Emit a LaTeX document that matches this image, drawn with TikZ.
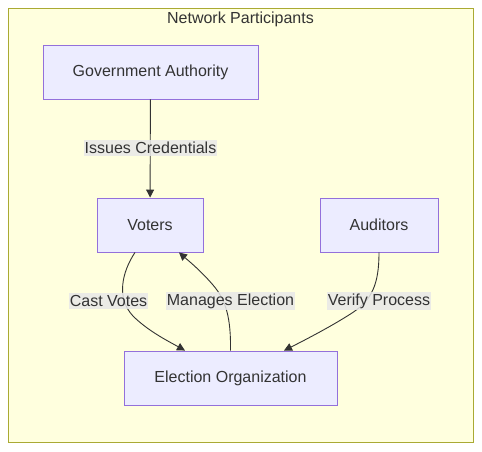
\documentclass[tikz,border=0pt]{standalone}
\usepackage{fontspec}
\setmainfont{Liberation Sans}
\usepackage{tikz}
\usetikzlibrary{arrows.meta,calc}

\definecolor{actorfill}{HTML}{ECECFF}
\definecolor{actorline}{HTML}{9370DB}
\definecolor{groupfill}{HTML}{FFFFDE}
\definecolor{groupline}{HTML}{AAAA33}
\definecolor{inktext}{HTML}{333333}
\definecolor{labelfill}{HTML}{E8E8E8}

\begin{document}
\begin{tikzpicture}[
    x=1pt, y=-1pt,
    every node/.style={font=\fontsize{16}{19}\selectfont, text=inktext},
    partbox/.style={draw=actorline, fill=actorfill, line width=0.9pt,
                    minimum height=54pt, inner sep=0pt},
    groupbox/.style={draw=groupline, fill=groupfill, line width=0.9pt, inner sep=0pt},
    edgelabel/.style={fill=labelfill, fill opacity=0.85, text opacity=1,
                      inner xsep=1pt, inner ysep=2pt},
    flowarrow/.style={-{Triangle[length=8pt,width=8pt]}, draw=inktext, line width=0.9pt},
  ]
  \useasboundingbox (0,0) rectangle (482,451);

  % === Group ===
  \node[groupbox, minimum width=465pt, minimum height=434pt] (group) at (240.5,225) {};
  \node (title) at (240.5,19) {Network Participants};

  % === Participants ===
  \node[partbox, minimum width=215pt] (gov) at (150.5,72) {Government Authority};
  \node[partbox, minimum width=106pt] (voters) at (150,225) {Voters};
  \node[partbox, minimum width=118pt] (auditors) at (379,225) {Auditors};
  \node[partbox, minimum width=213pt] (election) at (230.5,378) {Election Organization};

  % Arrows
  \draw[flowarrow] (gov) -- (voters);
  \draw[flowarrow] ($(voters.south)+(-15,0)$) .. controls (122,272) and (116,298) .. (133,316)
    .. controls (148,331) and (168,341) .. ($(election.north)+(-45.5,0)$);
  \draw[flowarrow] (election.north) .. controls (231,318) and (226,300) .. (213,285)
    .. controls (201,271) and (190,262) .. ($(voters.south)+(29,0)$);
  \draw[flowarrow] (auditors.south) .. controls (379,284) and (372,300) .. (352,313)
    .. controls (332,326) and (305,340) .. ($(election.north)+(53.5,0)$);

  % Edge labels
  \node[edgelabel] (issues) at (150.5,148) {Issues Credentials};
  \node[edgelabel] (cast) at (108.5,301) {Cast Votes};
  \node[edgelabel] (manages) at (230.5,301) {Manages Election};
  \node[edgelabel] (verify) at (379,301) {Verify Process};

\end{tikzpicture}
\end{document}
